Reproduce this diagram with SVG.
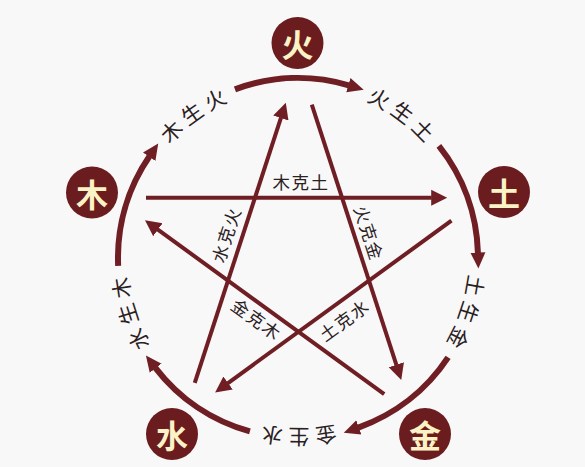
<svg xmlns="http://www.w3.org/2000/svg" width="585" height="467" viewBox="0 0 585 467">
  <style>
    .arc { fill: none; stroke: #6f1f24; stroke-width: 6; }
    .ke { fill: none; stroke: #6f1f24; stroke-width: 4; }
    .node { fill: #6b1c1f; }
    .nl { font-family: "Noto Sans CJK SC", "Noto Sans", sans-serif; font-size: 32px; font-weight: bold; fill: #fbf3c6; text-anchor: middle; dominant-baseline: central; }
    .ol { font-family: "Noto Sans CJK SC", "Noto Sans", sans-serif; font-size: 21px; fill: #2a2022; letter-spacing: 5px; text-anchor: middle; }
    .il { font-family: "Noto Sans CJK SC", "Noto Sans", sans-serif; font-size: 17.5px; fill: #2a2022; letter-spacing: 1.5px; text-anchor: middle; dominant-baseline: central; }
  </style>
  <defs>
    <marker id="ah-outer" markerUnits="userSpaceOnUse" markerWidth="20" markerHeight="20" viewBox="0 -10 20 20" refX="0.5" refY="0" orient="auto">
      <path d="M0,-7.5 L16,0 L0,7.5 Z" fill="#6f1f24"/>
    </marker>
    <marker id="ah-inner" markerUnits="userSpaceOnUse" markerWidth="20" markerHeight="20" viewBox="0 -10 20 20" refX="0.5" refY="0" orient="auto">
      <path d="M0,-8 L16,0 L0,8 Z" fill="#6f1f24"/>
    </marker>
    <path id="p-mu-huo" d="M148.44,175.10 A171,171 0 0 1 265.37,90.14"/>
    <path id="p-huo-tu" d="M330.63,90.14 A171,171 0 0 1 447.56,175.10"/>
    <path id="p-tu-jin" d="M467.73,237.16 A171,171 0 0 1 423.06,374.62"/>
    <path id="p-jin-shui" d="M370.27,412.98 A171,171 0 0 1 225.73,412.98"/>
    <path id="p-shui-mu" d="M172.94,374.62 A171,171 0 0 1 128.27,237.16"/>
  </defs>
  <rect x="0" y="0" width="585" height="467" fill="#f8f8f9"/>

  <g id="connectors">
    <!-- generating cycle (outer arcs) -->
    <path class="arc" d="M118.17,265.85 A180,180 0 0 1 149.48,156.31" marker-end="url(#ah-outer)"/>
    <path class="arc" d="M234.96,89.40 A180,180 0 0 1 348.82,85.32" marker-end="url(#ah-outer)"/>
    <path class="arc" d="M438.87,145.95 A180,180 0 0 1 477.93,252.97" marker-end="url(#ah-outer)"/>
    <path class="arc" d="M448.10,357.35 A180,180 0 0 1 358.38,427.57" marker-end="url(#ah-outer)"/>
    <path class="arc" d="M249.90,431.45 A180,180 0 0 1 155.39,367.83" marker-end="url(#ah-outer)"/>
    <!-- controlling cycle (star) -->
    <path class="ke" d="M146,197.75 L431.7,197.75" marker-end="url(#ah-inner)"/>
    <path class="ke" d="M311.79,104.6 L396.47,365.19" marker-end="url(#ah-inner)"/>
    <path class="ke" d="M194.76,382.98 L281.01,117.53" marker-end="url(#ah-inner)"/>
    <path class="ke" d="M384.21,394.08 L157.52,229.37" marker-end="url(#ah-inner)"/>
    <path class="ke" d="M451.45,220.67 L227.67,383.27" marker-end="url(#ah-inner)"/>
    <!-- labels -->
    <text class="ol"><textPath href="#p-mu-huo" startOffset="51%">木生火</textPath></text>
    <text class="ol"><textPath href="#p-huo-tu" startOffset="51%">火生土</textPath></text>
    <text class="ol"><textPath href="#p-tu-jin" startOffset="51%">土生金</textPath></text>
    <text class="ol"><textPath href="#p-jin-shui" startOffset="51%">金生水</textPath></text>
    <text class="ol"><textPath href="#p-shui-mu" startOffset="51%">水生木</textPath></text>
    <text class="il" transform="translate(301,181.3)">木克土</text>
    <text class="il" transform="translate(369.5,233) rotate(72)">火克金</text>
    <text class="il" transform="translate(225.6,234.5) rotate(-72)">水克火</text>
    <text class="il" transform="translate(257,318.9) rotate(36)">金克木</text>
    <text class="il" transform="translate(344,319.5) rotate(-36)">土克水</text>
  </g>

  <g id="node-huo">
    <circle class="node" cx="297.5" cy="43" r="26"/>
    <text class="nl" x="297.5" y="43">火</text>
  </g>
  <g id="node-tu">
    <circle class="node" cx="504" cy="192" r="26"/>
    <text class="nl" x="504" y="192">土</text>
  </g>
  <g id="node-jin">
    <circle class="node" cx="425" cy="434" r="26"/>
    <text class="nl" x="425" y="434">金</text>
  </g>
  <g id="node-shui">
    <circle class="node" cx="172" cy="434" r="26"/>
    <text class="nl" x="172" y="434">水</text>
  </g>
  <g id="node-mu">
    <circle class="node" cx="92" cy="192.5" r="26"/>
    <text class="nl" x="92" y="192.5">木</text>
  </g>
</svg>
